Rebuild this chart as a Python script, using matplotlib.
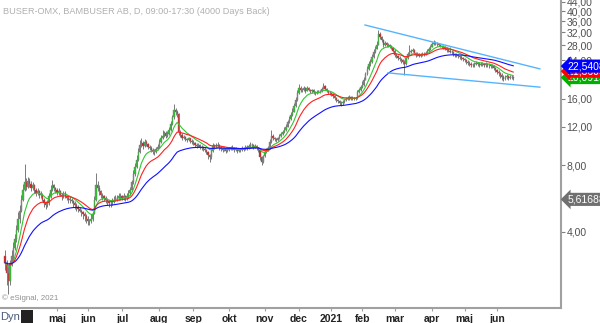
import numpy as np
import pandas as pd
import matplotlib
matplotlib.use("Agg")
import matplotlib.pyplot as plt
from matplotlib import transforms

plt.rcParams['font.family'] = ['Liberation Sans', 'DejaVu Sans']

# ---------------- data ----------------
holidays = ["2020-04-10", "2020-04-13", "2020-05-01", "2020-05-21", "2020-06-19",
            "2020-12-24", "2020-12-25", "2020-12-31", "2021-01-01", "2021-01-06",
            "2021-04-02", "2021-04-05", "2021-05-13"]
start_date = "2020-03-16"
end_date = "2021-06-15"

first_open = 3.1
close = [
 2.9, 2.6, 2.4, 2.9, 3.1, 3.4, 3.7, 4.1, 4.6, 5.0, 5.6, 6.2,
 6.7, 6.4, 6.8, 6.6, 6.3, 6.5, 6.2, 6.0, 6.1, 5.9, 5.9, 5.6, 5.4, 5.3, 5.4, 5.8, 6.2, 6.5, 6.3, 6.2,
 6.0, 6.1, 5.9, 5.8, 6.0, 5.8, 5.7, 5.6, 5.6, 5.5, 5.4, 5.3, 5.2, 5.1, 5.0, 4.9, 4.8, 4.7, 4.6,
 4.5, 4.5, 4.6, 4.8, 5.6, 6.5, 6.3, 6.1, 5.9, 5.8, 5.7, 5.6, 5.5, 5.4, 5.4, 5.5, 5.6, 5.7, 5.7, 5.8, 5.8,
 5.7, 5.8, 5.7, 5.8, 6.0, 6.2, 6.7, 7.3, 7.9, 8.5, 9.2, 9.9, 10.1, 9.8, 10.2, 10.0, 9.7, 9.6, 9.4, 9.3, 9.2, 9.5, 9.7,
 10.2, 10.6, 10.9, 11.2, 10.9, 11.1, 11.6, 12.3, 13.2, 14.3, 13.9, 13.7, 11.3, 11.0, 10.6, 10.8, 10.5, 10.4, 10.6, 10.3, 10.2,
 10.1, 9.9, 9.8, 9.9, 9.7, 9.6, 9.5, 9.4, 9.2, 8.9, 8.7, 9.3, 9.8, 9.7, 9.9, 9.9, 9.6, 9.5, 9.4, 9.5, 9.3, 9.4,
 9.5, 9.6, 9.6, 9.4, 9.5, 9.3, 9.4, 9.4, 9.6, 9.5, 9.7, 9.6, 9.8, 9.9, 9.9, 9.7, 9.8, 9.6, 9.4, 8.7, 8.3, 8.8,
 9.2, 9.4, 9.6, 10.2, 10.9, 10.6, 10.5, 10.4, 10.6, 10.9, 11.1, 11.3, 11.6, 12.0, 12.6, 13.0, 13.5, 14.0, 14.8, 15.8, 17.0,
 18.0, 17.5, 17.6, 17.9, 17.4, 18.0, 17.6, 17.3, 17.5, 17.2, 17.0, 17.2, 17.3, 17.3, 17.8, 18.4, 17.7, 17.4, 17.1, 17.0,
 16.8, 16.5, 16.2, 15.8, 15.6, 15.4, 15.3, 15.5, 15.8, 16.0, 16.2, 16.3, 16.0, 16.2, 16.1, 16.1, 17.2, 17.6, 18.1,
 18.6, 19.6, 20.7, 21.8, 23.0, 23.6, 24.8, 26.2, 27.0, 28.2, 31.4, 30.5, 29.6, 28.2, 28.6, 28.0, 28.2, 27.8, 27.3, 26.5,
 25.3, 25.0, 24.6, 24.2, 23.9, 23.6, 23.0, 24.5, 25.5, 26.2, 26.4, 26.7, 25.9, 25.3, 25.5, 25.1, 25.3, 25.6, 25.4, 25.8, 26.3, 26.9, 27.6,
 28.3, 28.8, 28.5, 28.4, 28.2, 27.9, 27.6, 27.4, 27.0, 26.7, 26.5, 26.2, 26.0, 25.6, 25.3, 25.4, 25.0, 24.8, 24.6, 24.3,
 24.0, 23.6, 23.3, 23.1, 22.9, 22.8, 23.0, 23.2, 23.0, 22.9, 23.1, 23.0, 22.8, 23.0, 22.8, 22.7, 22.5, 22.5, 22.1, 21.6,
 21.2, 20.9, 20.6, 20.2, 19.8, 20.1, 20.3, 20.0, 20.2, 20.1, 20.0]
high = [
 3.3, 3.0, 2.8, 3.0, 3.3, 3.6, 3.9, 4.3, 4.9, 5.3, 5.9, 6.6,
 8.1, 7.0, 7.1, 7.0, 6.8, 6.7, 6.6, 6.3, 6.3, 6.2, 6.1, 6.0, 5.7, 5.5, 5.6, 6.0, 6.5, 6.9, 6.6, 6.4,
 6.3, 6.3, 6.2, 6.0, 6.1, 6.1, 5.9, 5.8, 5.8, 5.7, 5.6, 5.5, 5.4, 5.3, 5.2, 5.1, 5.0, 4.9, 4.8,
 4.7, 4.6, 4.8, 5.0, 5.8, 7.4, 6.8, 6.5, 6.2, 6.0, 5.9, 5.8, 5.7, 5.6, 5.6, 5.7, 5.8, 5.9, 5.9, 6.0, 6.0,
 5.9, 6.0, 5.9, 6.0, 6.2, 6.4, 6.9, 7.6, 8.2, 8.9, 9.6, 10.4, 10.6, 10.3, 10.5, 10.4, 10.1, 9.9, 9.8, 9.6, 9.5, 9.7, 10.0,
 10.5, 11.0, 11.6, 11.5, 11.4, 11.4, 11.9, 12.7, 13.6, 15.2, 14.6, 14.2, 13.8, 11.6, 11.2, 11.0, 10.9, 10.7, 10.8, 10.7, 10.5,
 10.4, 10.2, 10.1, 10.1, 10.0, 9.9, 9.8, 9.7, 9.5, 9.3, 9.0, 9.5, 10.1, 10.0, 10.1, 10.2, 10.0, 9.8, 9.7, 9.7, 9.6, 9.6,
 9.7, 9.8, 9.9, 9.7, 9.7, 9.6, 9.6, 9.6, 9.8, 9.7, 9.9, 9.9, 10.0, 10.2, 10.1, 10.0, 10.0, 9.9, 9.7, 9.4, 8.8, 8.9,
 9.4, 9.6, 9.8, 10.5, 11.6, 11.1, 10.8, 10.7, 10.8, 11.1, 11.3, 11.6, 11.9, 12.3, 12.9, 13.4, 13.9, 14.5, 15.3, 16.4, 17.6,
 18.8, 18.4, 18.0, 18.3, 18.1, 18.4, 18.2, 17.8, 17.8, 17.7, 17.4, 17.5, 17.6, 17.6, 18.1, 18.9, 18.5, 17.9, 17.6, 17.3,
 17.2, 17.0, 16.7, 16.3, 16.0, 15.8, 15.6, 15.8, 16.0, 16.3, 16.5, 16.6, 16.5, 16.5, 16.4, 16.4, 17.6, 18.0, 18.6,
 19.2, 20.2, 21.3, 22.5, 23.8, 24.3, 25.6, 27.0, 27.8, 29.3, 32.9, 32.0, 31.0, 29.9, 29.3, 29.0, 28.8, 28.5, 28.1, 27.6,
 26.8, 25.8, 25.4, 25.0, 24.6, 24.3, 23.9, 24.9, 26.0, 28.2, 27.0, 27.3, 26.9, 26.2, 26.0, 25.8, 25.8, 26.0, 26.0, 26.3, 26.8, 27.5, 28.2,
 29.0, 29.5, 29.2, 29.0, 28.8, 28.5, 28.2, 28.0, 27.8, 27.4, 27.1, 27.6, 26.6, 26.3, 25.9, 25.9, 25.7, 25.4, 25.2, 24.9,
 24.6, 24.3, 24.0, 23.7, 23.5, 23.4, 23.5, 23.8, 23.6, 23.5, 23.6, 23.6, 23.4, 23.5, 23.4, 23.2, 23.1, 23.0, 22.8, 22.4,
 21.9, 21.6, 21.3, 20.9, 20.5, 20.5, 20.8, 20.6, 20.6, 20.5, 20.4]
low = [
 2.7, 2.3, 2.1, 2.3, 2.8, 3.0, 3.3, 3.6, 4.0, 4.4, 4.9, 5.5,
 6.1, 6.2, 6.3, 6.4, 6.1, 6.2, 6.0, 5.8, 5.9, 5.7, 5.7, 5.5, 5.2, 5.1, 5.2, 5.3, 5.7, 6.1, 6.1, 6.0,
 5.9, 5.9, 5.8, 5.6, 5.7, 5.7, 5.6, 5.4, 5.4, 5.4, 5.2, 5.1, 5.0, 4.9, 4.9, 4.7, 4.6, 4.5, 4.4,
 4.3, 4.3, 4.4, 4.5, 4.8, 5.5, 6.1, 5.9, 5.7, 5.6, 5.5, 5.4, 5.3, 5.2, 5.2, 5.3, 5.4, 5.5, 5.5, 5.6, 5.6,
 5.6, 5.6, 5.5, 5.6, 5.7, 5.9, 6.1, 6.6, 7.2, 7.8, 8.4, 9.1, 9.7, 9.5, 9.7, 9.8, 9.5, 9.4, 9.2, 9.0, 8.9, 9.1, 9.4,
 9.6, 10.1, 10.5, 10.8, 10.7, 10.8, 11.0, 11.5, 12.2, 13.0, 13.6, 13.2, 11.0, 10.8, 10.4, 10.5, 10.3, 10.2, 10.3, 10.1, 10.0,
 9.9, 9.7, 9.6, 9.7, 9.5, 9.4, 9.3, 9.2, 9.0, 8.6, 8.3, 8.6, 9.2, 9.5, 9.6, 9.7, 9.4, 9.3, 9.2, 9.3, 9.1, 9.2,
 9.3, 9.4, 9.4, 9.2, 9.3, 9.1, 9.2, 9.2, 9.3, 9.3, 9.4, 9.4, 9.5, 9.7, 9.7, 9.5, 9.6, 9.4, 9.2, 8.5, 8.0, 8.2,
 8.7, 9.1, 9.3, 9.5, 10.1, 10.4, 10.3, 10.2, 10.3, 10.5, 10.8, 11.0, 11.2, 11.5, 11.9, 12.5, 12.9, 13.4, 13.9, 14.7, 15.7,
 16.9, 17.2, 17.2, 17.4, 17.1, 17.3, 17.3, 17.0, 17.1, 16.9, 16.7, 16.8, 17.0, 17.0, 17.2, 17.7, 17.5, 17.2, 16.9, 16.7,
 16.5, 16.2, 15.9, 15.5, 15.3, 15.1, 14.9, 15.1, 15.3, 15.6, 15.8, 15.9, 15.8, 15.8, 15.8, 15.8, 16.0, 17.0, 17.4,
 17.9, 18.4, 19.4, 20.5, 21.6, 22.6, 23.3, 24.6, 25.8, 26.8, 28.0, 29.8, 28.9, 27.6, 27.8, 27.4, 27.5, 27.2, 26.8, 26.0,
 24.9, 24.5, 24.1, 23.7, 23.4, 23.0, 20.6, 22.8, 24.3, 25.2, 25.8, 26.0, 25.5, 24.9, 25.0, 24.7, 24.8, 25.0, 25.0, 25.2, 25.6, 26.0, 26.6,
 27.4, 28.0, 28.0, 27.9, 27.7, 27.4, 27.1, 26.9, 26.6, 26.2, 26.0, 25.8, 25.5, 25.1, 24.8, 24.9, 24.5, 24.3, 24.1, 23.8,
 23.5, 23.1, 22.8, 22.6, 22.4, 22.3, 22.4, 22.7, 22.5, 22.4, 22.6, 22.5, 22.3, 22.4, 22.3, 22.2, 22.0, 22.0, 21.6, 21.1,
 20.7, 20.4, 20.0, 19.6, 19.2, 19.5, 19.8, 19.6, 19.7, 19.7, 19.6]

ma_spans = [10, 20, 50]          # green, red, blue
ma_colors = ["#33c633", "#ff2020", "#1010ff"]
ma_values_text = ["20,0915", "21,3609", "22,5408"]   # right-hand value tags (green, red, blue)
tag_values = [20.0, 21.36, 22.54]
extra_tag_value = 5.61688
extra_tag_text = "5,61688"

# trend lines: (bar index position, price)
trend_upper = [(221.7, 34.6), (329.4, 21.9)]
trend_lower = [(235.8, 21.0), (329.4, 18.1)]

y_ticks = [4, 8, 12, 16, 20, 24, 28, 32, 36, 40, 44]
month_names = {1: "2021", 2: "feb", 3: "mar", 4: "apr", 5: "maj", 6: "jun", 7: "jul",
               8: "aug", 9: "sep", 10: "okt", 11: "nov", 12: "dec"}
first_labeled_month = "2020-05"

# ---------------- build ----------------
dates = pd.bdate_range(start_date, end_date)
dates = dates[~dates.isin(pd.to_datetime(holidays))]
n = min(len(dates), len(close), len(high), len(low))
dates = dates[:n]
c = np.array(close[:n]); h = np.array(high[:n]); l = np.array(low[:n])
o = np.concatenate([[first_open], c[:-1]])
x = np.arange(n)

fig = plt.figure(figsize=(6.0, 3.23), dpi=100)
ax = fig.add_axes([0.0, 15/323, 561/600, 308/323])
ax.set_yscale("log")

# candles
up = c >= o
ax.vlines(x, l, h, color="#7a7a7a", linewidth=0.7, zorder=2)
body_lo = np.minimum(o, c); body_hi = np.maximum(o, c)
body_hi = np.where(body_hi / body_lo < 1.004, body_lo * 1.004, body_hi)
ax.bar(x[up], body_hi[up] - body_lo[up], bottom=body_lo[up], width=0.75,
       color="#22cc22", edgecolor="#7a7a7a", linewidth=0.3, zorder=3)
ax.bar(x[~up], body_hi[~up] - body_lo[~up], bottom=body_lo[~up], width=0.75,
       color="#ee1111", edgecolor="#7a7a7a", linewidth=0.3, zorder=3)

# moving averages
s = pd.Series(c)
for span, col in zip(ma_spans, ma_colors):
    ma = s.ewm(span=span, adjust=False).mean()
    ax.plot(x, ma, color=col, linewidth=0.8, zorder=4)

# trend lines
for tl in (trend_upper, trend_lower):
    ax.plot([p[0] for p in tl], [p[1] for p in tl], color="#55b4ff", linewidth=1.0, zorder=5)

# month ticks at the first trading day of each month (from May 2020)
month_idx = []
month_lab = []
prev = None
first_p = pd.Period(first_labeled_month, "M")
for i, d in enumerate(dates):
    key = (d.year, d.month)
    if key != prev:
        if d.to_period("M") >= first_p:
            month_idx.append(i)
            month_lab.append(month_names[d.month])
        prev = key
i_may = month_idx[0]
i_jun = month_idx[-1]
pxb = (497 - 57) / (i_jun - i_may)
x_left = i_may - 57 / pxb
x_right = x_left + 561 / pxb
ax.set_xlim(x_left, x_right)
ax.set_ylim(1.81, 44.9)

# spines
for sp in ("top", "left"):
    ax.spines[sp].set_visible(False)
for sp in ("right", "bottom"):
    ax.spines[sp].set_color("#a0a0a0")
    ax.spines[sp].set_linewidth(1.5)

# y ticks on right
ax.yaxis.tick_right()
ax.yaxis.set_minor_locator(matplotlib.ticker.NullLocator())
ax.set_yticks(y_ticks)
ax.set_yticklabels([f"{v},00" for v in y_ticks])
ax.tick_params(axis="y", which="major", length=3, width=0.8, color="#808080",
               labelsize=7.5, labelcolor="#505050", pad=1)

# x ticks
ax.set_xticks(month_idx)
ax.set_xticklabels(month_lab, fontweight="bold")
ax.tick_params(axis="x", length=2, width=0.8, color="#a0a0a0", labelsize=7.5,
               labelcolor="#222222", pad=2)

# value tags on right
trans = transforms.blended_transform_factory(ax.transAxes, ax.transData)
tag_fc = ["#00b000", "#ff0000", "#0000ff"]
for ty, txt, fc in zip(tag_values, ma_values_text, tag_fc):
    ax.text(1.012, ty, txt, transform=trans, fontsize=7.5, color="white",
            va="center", ha="left", clip_on=False, zorder=10,
            bbox=dict(boxstyle="larrow,pad=0.15", fc=fc, ec="none"))
ax.text(1.012, extra_tag_value, extra_tag_text, transform=trans, fontsize=7.5,
        color="white", va="center", ha="left", clip_on=False, zorder=10,
        bbox=dict(boxstyle="larrow,pad=0.15", fc="#707070", ec="none"))

# texts
fig.text(3/600, 1 - 11/323, "BUSER-OMX, BAMBUSER AB, D, 09:00-17:30 (4000 Days Back)",
         fontsize=6.6, color="#b0b0b0", va="center", ha="left")
fig.text(2/600, 1 - 298/323, "© eSignal, 2021", fontsize=5.7, color="#909090",
         va="center", ha="left")
fig.text(0/600, 1 - 317/323, "Dyn", fontsize=8, color="#4a5a7a", va="center", ha="left")
fig.patches.append(matplotlib.patches.Rectangle((21/600, 0), 12/600, 13/323,
                   transform=fig.transFigure, fc="#222222", ec="none", figure=fig))

fig.savefig("out.png", dpi=100)
